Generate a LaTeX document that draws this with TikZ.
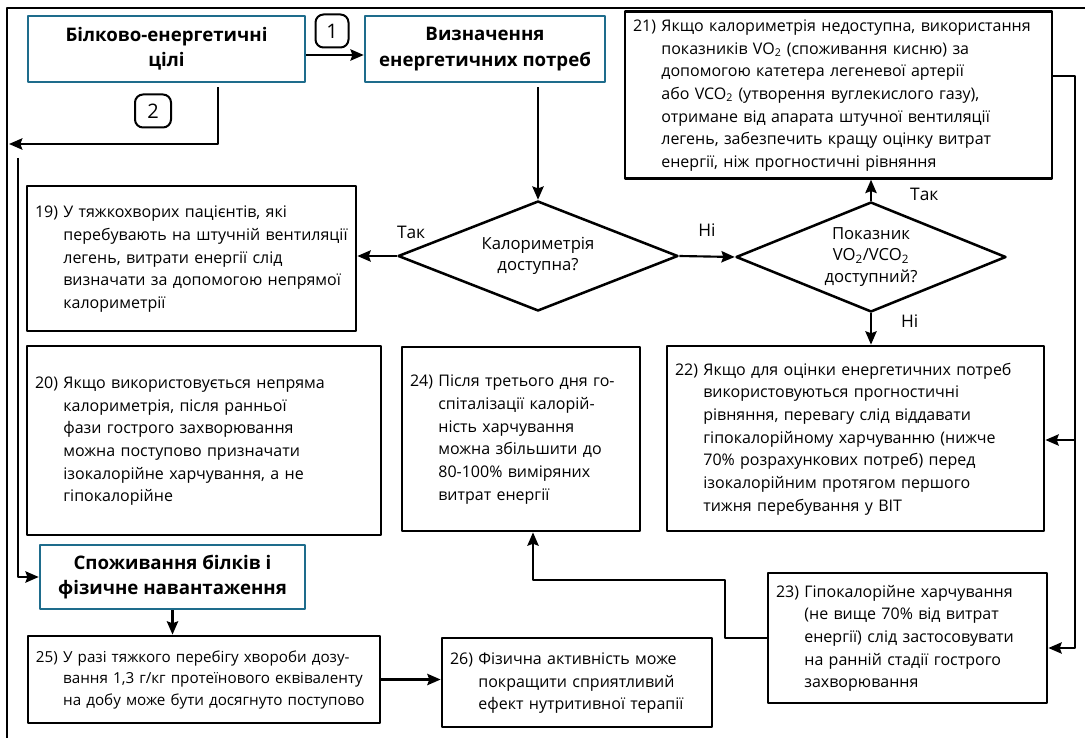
\documentclass[tikz,border=0pt]{standalone}
\usepackage{fontspec}
\setmainfont{Open Sans}
\usetikzlibrary{shapes.geometric,arrows.meta}
\definecolor{goalblue}{RGB}{30,108,140}
\newcommand{\numbered}[2]{\noindent\begin{tabular}[t]{@{}l@{\hspace{4pt}}l@{}}#1&\begin{tabular}[t]{@{}l@{}}#2\end{tabular}\end{tabular}}

\begin{document}
\begin{tikzpicture}[x=0.75pt,y=-0.75pt,>={Stealth[length=10pt,width=8.5pt,inset=1.5pt]},line join=round,
  goal/.style={draw=goalblue,line width=1.9pt,align=center,inner sep=2pt,font=\bfseries\fontsize{14}{19}\selectfont},
  note/.style={draw,line width=2.1pt,inner xsep=6pt,inner ysep=3pt,align=left,font=\fontsize{12}{17}\selectfont},
  dia/.style={draw,shape=diamond,line width=1.9pt,inner sep=0pt,aspect=2.5,align=center,font=\fontsize{12.5}{16}\selectfont},
  tag/.style={draw,line width=1.5pt,rounded corners=6pt,inner sep=0pt,minimum height=24.75pt,font=\fontsize{15}{16}\selectfont},
  lbl/.style={inner sep=0pt,font=\fontsize{13}{15}\selectfont},
  conn/.style={->,line width=1.6pt}]
\useasboundingbox (0,0) rectangle (1085,738);
\draw[line width=1pt] (7,738) -- (7,8) -- (1085,8);

\node[goal,minimum width=207.75pt,minimum height=49.5pt] (goals) at (166.5,49) {Білково-енергетичні\\цілі};
\node[goal,minimum width=180pt,minimum height=49.5pt] (needs) at (485,49) {Визначення\\енергетичних потреб};
\node[tag,minimum width=24.75pt] (tag1) at (332,31) {1};
\node[tag,minimum width=27pt] (tag2) at (153,111) {2};

\node[note,text width=308.25pt,minimum height=124.5pt] (s21) at (838.5,95) {\numbered{21)}{Якщо калориметрія недоступна, використання\\показників VO\textsubscript{2} (споживання кисню) за\\допомогою катетера легеневої артерії\\або VCO\textsubscript{2} (утворення вуглекислого газу),\\отримане від апарата штучної вентиляції\\легень, забезпечить кращу оцінку витрат\\енергії, ніж прогностичні рівняння}};
\node[dia,minimum width=210pt,minimum height=82.5pt] (calor) at (538,256) {Калориметрія\\доступна?};
\node[dia,minimum width=202.5pt,minimum height=82.5pt] (vco) at (871,257) {Показник\\VO\textsubscript{2}/VCO\textsubscript{2}\\доступний?};
\node[note,text width=234.75pt,minimum height=108.75pt] (s19) at (191.5,258.5) {\numbered{19)}{У тяжкохворих пацієнтів, які\\перебувають на штучній вентиляції\\легень, витрати енергії слід\\визначати за допомогою непрямої\\калориметрії}};
\node[note,text width=253.5pt,minimum height=141.75pt] (s20) at (204,440.5) {\numbered{20)}{Якщо використовується непряма\\калориметрія, після ранньої\\фази гострого захворювання\\можна поступово призначати\\ізокалорійне харчування, а не\\гіпокалорійне}};
\node[note,text width=166.5pt,minimum height=138pt] (s24) at (521,439) {\numbered{24)}{Після третього дня го-\\спіталізації калорій-\\ність харчування\\можна збільшити до\\80-100\% виміряних\\витрат енергії}};
\node[note,text width=270.75pt,minimum height=138.75pt] (s22) at (855.5,438.5) {\numbered{22)}{Якщо для оцінки енергетичних потреб\\використовуються прогностичні\\рівняння, перевагу слід віддавати\\гіпокалорійному харчуванню (нижче\\70\% розрахункових потреб) перед\\ізокалорійним протягом першого\\тижня перебування у ВІТ}};
\node[goal,minimum width=198.75pt,minimum height=48pt] (protein) at (172.5,577) {Споживання білків і\\фізичне навантаження};
\node[note,text width=197.25pt,minimum height=97.5pt] (s23) at (907.5,638) {\numbered{23)}{Гіпокалорійне харчування\\(не вище 70\% від витрат\\енергії) слід застосовувати\\на ранній стадії гострого\\захворювання}};
\node[note,text width=252pt,minimum height=65.25pt,font=\fontsize{11.4}{16}\selectfont] (s25) at (204,679.5) {\numbered{25)}{У разі тяжкого перебігу хвороби дозу-\\вання 1,3 г/кг протеїнового еквіваленту\\на добу може бути досягнуто поступово}};
\node[note,text width=190.5pt,minimum height=66.75pt] (s26) at (577,682.5) {\numbered{26)}{Фізична активність може\\покращити сприятливий\\ефект нутритивної терапії}};

\draw[conn] ([yshift=-4.5pt]goals.east) -- ([yshift=-4.5pt]needs.west);
\coordinate (split2) at (218,144);
\coordinate (edge2) at (9,144);
\draw[conn] ([yshift=-3pt]split2 |- goals.south) -- (split2) -- (edge2);
\coordinate (riser) at (18,158);
\draw[conn] (riser) |- (protein.west);
\draw[conn] ([yshift=-3pt]needs.south -| calor.north) -- (calor.north);
\draw[conn] (calor.west) -- (calor.west -| s19.east);
\node[lbl,anchor=south west] (yes1) at ([yshift=13pt]calor.west) {Так};
\draw[conn] (calor.east) -- (vco.west) node[lbl,midway,above=14pt] (no1) {Ні};
\draw[conn] (vco.north) -- (vco.north |- s21.south);
\node[lbl] (yes2) at ([xshift=40pt,yshift=5pt]vco.north) {Так};
\draw[conn] (vco.south) -- (vco.south |- s22.north);
\node[lbl] (no2) at ([xshift=29pt,yshift=-6pt]vco.south) {Ні};
\coordinate (rtop) at (1075,76);
\coordinate (rmid) at (1075,440);
\coordinate (rbot) at (1075,648);
\draw[conn] (rtop -| s21.east) -- (rtop) -- (rbot) -- (rbot -| s23.east);
\draw[conn] (rmid) -- (rmid -| s22.east);
\coordinate (knee) at (725,580);
\draw[conn] (s23.west) -| (knee) -| ([xshift=9pt]s24.south);
\draw[conn] (protein.south) -- (protein.south |- s25.north);
\draw[conn] (s25.east) -- (s25.east -| s26.west);
\end{tikzpicture}
\end{document}
